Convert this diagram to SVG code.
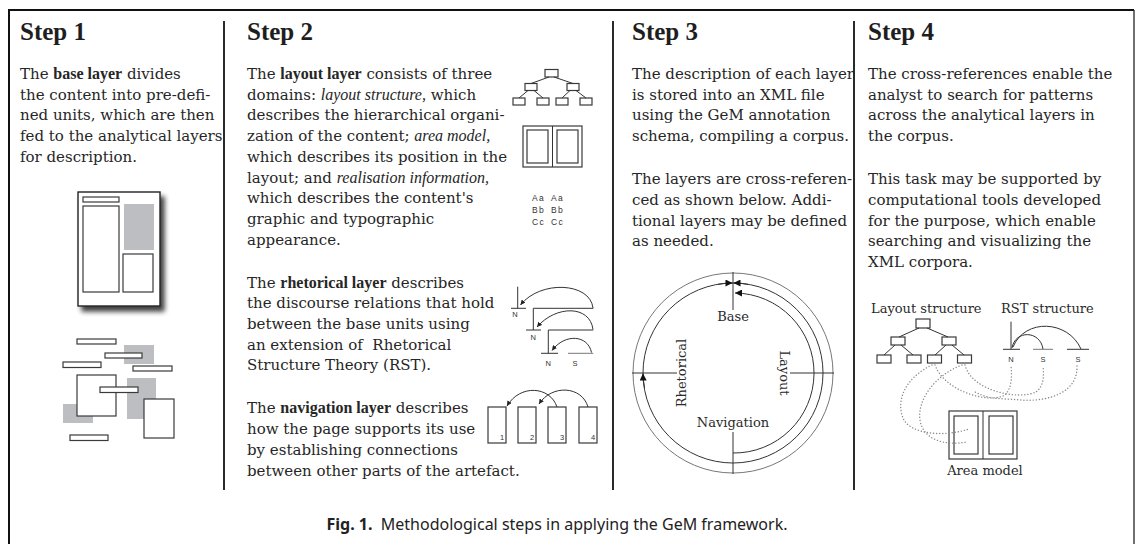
<svg xmlns="http://www.w3.org/2000/svg" width="1142" height="544" viewBox="0 0 1142 544">
<defs>
<style>
.t{font-family:"DejaVu Serif",serif;font-size:15px;fill:#262626}
.b{font-family:"Liberation Serif",serif;font-weight:bold;font-size:16px}
.i{font-family:"Liberation Serif",serif;font-style:italic;font-size:16px}
.head{font-family:"Liberation Serif",serif;font-weight:bold;font-size:25px;fill:#1e1e1e}
.frame{fill:none;stroke:#111;stroke-width:2}
.sep{stroke:#2a2a2a;stroke-width:2}
.box{fill:#fff;stroke:#3a3a3a;stroke-width:1.2}
.gray{fill:#bdbec1}
.ln{fill:none;stroke:#333;stroke-width:1}
.lg{fill:none;stroke:#777;stroke-width:1}
.lbl{font-family:"DejaVu Serif",serif;font-size:13px;fill:#2a2a2a}
.tiny{font-family:"Liberation Sans",sans-serif;font-size:7.5px;fill:#333}
.aa{font-family:"Liberation Sans",sans-serif;font-size:8.5px;fill:#333;letter-spacing:1.3px}
.dot{fill:none;stroke:#8a8a8a;stroke-width:1.4;stroke-dasharray:0.1 3;stroke-linecap:round}
.cap{font-family:"Noto Sans",sans-serif;font-size:16px;fill:#222}
</style>
<marker id="ah" viewBox="0 0 10 10" refX="10" refY="5" markerWidth="5" markerHeight="5" orient="auto" markerUnits="userSpaceOnUse">
<path d="M0,0 L10,5 L0,10 z" fill="#222"/>
</marker>
<marker id="ahc" viewBox="0 0 10 10" refX="10" refY="5" markerWidth="8" markerHeight="7" orient="auto" markerUnits="userSpaceOnUse">
<path d="M0,0 L10,5 L0,10 z" fill="#111"/>
</marker>
<filter id="shadow" x="-20%" y="-20%" width="150%" height="150%">
<feGaussianBlur in="SourceAlpha" stdDeviation="2.5"/>
<feOffset dx="4" dy="5"/>
<feComponentTransfer><feFuncA type="linear" slope="0.75"/></feComponentTransfer>
<feMerge><feMergeNode/><feMergeNode in="SourceGraphic"/></feMerge>
</filter>
</defs>

<!-- frame and column separators -->
<g id="frame">
<path class="frame" d="M9,546 V10 H1134"/>
<line x1="1134" y1="10" x2="1134" y2="546" stroke="#222" stroke-width="1.3"/>
<line class="sep" x1="224" y1="21" x2="224" y2="490"/>
<line class="sep" x1="613" y1="21" x2="613" y2="490"/>
<line class="sep" x1="854" y1="21" x2="854" y2="490"/>
</g>

<!-- Step 1 -->
<g id="step1">
<text class="head" x="20" y="40">Step 1</text>
<text class="t" x="20" y="79">The <tspan class="b">base layer</tspan> divides</text>
<text class="t" x="20" y="99.7">the content into pre-defi-</text>
<text class="t" x="20" y="120.4">ned units, which are then</text>
<text class="t" x="20" y="141.1">fed to the analytical layers</text>
<text class="t" x="20" y="161.8">for description.</text>
<g id="page-icon">
<rect x="78" y="192" width="82" height="114" fill="#fff" stroke="#222" stroke-width="1.4" filter="url(#shadow)"/>
<rect class="box" x="83" y="197" width="36" height="5"/>
<rect class="box" x="83" y="206" width="36" height="86"/>
<rect class="gray" x="124" y="204" width="30" height="46"/>
<rect class="box" x="123" y="254" width="30" height="38"/>
</g>
<g id="units">
<rect class="gray" x="124" y="345" width="30" height="19"/>
<rect class="gray" x="127" y="378" width="29" height="41"/>
<rect class="gray" x="63" y="404" width="30" height="19"/>
<rect class="box" x="77" y="339" width="39" height="5"/>
<rect class="box" x="105" y="353" width="37" height="5"/>
<rect class="box" x="63" y="362" width="38" height="5.5"/>
<rect class="box" x="133" y="366" width="39" height="5"/>
<rect class="box" x="77" y="375" width="39" height="41"/>
<rect class="box" x="100" y="387" width="38" height="5.5"/>
<rect class="box" x="144" y="399" width="30" height="39"/>
<rect class="box" x="70" y="435" width="38" height="5.5"/>
</g>
</g>

<!-- Step 2 -->
<g id="step2">
<text class="head" x="247" y="40">Step 2</text>
<text class="t" x="247" y="79">The <tspan class="b">layout layer</tspan> consists of three</text>
<text class="t" x="247" y="99.7">domains: <tspan class="i">layout structure,</tspan> which</text>
<text class="t" x="247" y="120.4">describes the hierarchical organi-</text>
<text class="t" x="247" y="141.1">zation of the content; <tspan class="i">area model,</tspan></text>
<text class="t" x="247" y="161.8">which describes its position in the</text>
<text class="t" x="247" y="182.5">layout; and <tspan class="i">realisation information,</tspan></text>
<text class="t" x="247" y="203.2">which describes the content's</text>
<text class="t" x="247" y="223.9">graphic and typographic</text>
<text class="t" x="247" y="244.6">appearance.</text>

<text class="t" x="247" y="287.6">The <tspan class="b">rhetorical layer</tspan> describes</text>
<text class="t" x="247" y="308.3">the discourse relations that hold</text>
<text class="t" x="247" y="329">between the base units using</text>
<text class="t" x="247" y="349.7" xml:space="preserve">an extension of  Rhetorical</text>
<text class="t" x="247" y="370.4">Structure Theory (RST).</text>

<text class="t" x="247" y="413.4">The <tspan class="b">navigation layer</tspan> describes</text>
<text class="t" x="247" y="434.1">how the page supports its use</text>
<text class="t" x="247" y="454.8">by establishing connections</text>
<text class="t" x="247" y="475.5">between other parts of the artefact.</text>

<g id="icon-tree">
<rect class="box" x="545" y="69.5" width="13" height="7.5"/>
<rect class="box" x="525" y="83.5" width="12" height="7"/>
<rect class="box" x="567" y="83.5" width="12" height="7"/>
<rect class="box" x="513" y="98" width="12" height="7"/>
<rect class="box" x="537" y="98" width="12" height="7"/>
<rect class="box" x="556" y="98" width="12" height="7"/>
<rect class="box" x="580" y="98" width="12" height="7"/>
<path class="ln" d="M549,77 L531,83.5 M554,77 L573,83.5 M528,90.5 L519,98 M534,90.5 L543,98 M570,90.5 L562,98 M576,90.5 L586,98"/>
</g>
<g id="icon-area">
<rect class="box" x="523" y="126" width="59" height="41"/>
<line class="ln" x1="552.5" y1="126" x2="552.5" y2="167"/>
<rect class="box" x="527" y="130" width="21" height="33"/>
<rect class="box" x="557" y="130" width="21" height="33"/>
</g>
<g id="icon-type">
<text class="aa" x="532" y="200.5">Aa</text><text class="aa" x="551" y="200.5">Aa</text>
<text class="aa" x="532" y="212.5">Bb</text><text class="aa" x="551" y="212.5">Bb</text>
<text class="aa" x="532" y="224.5">Cc</text><text class="aa" x="551" y="224.5">Cc</text>
</g>
<g id="icon-rst">
<path class="ln" d="M517.7,286.7 V308.3 M511,308.3 H526 M533.3,308.3 H593.3"/>
<path class="ln" d="M533.3,308.3 V330 M526,330 H541 M548.3,330 H593.3"/>
<path class="ln" d="M548.3,330 V353.3 M541,353.3 H558"/>
<path class="lg" d="M568,353.3 H593.3"/>
<path class="ln" marker-end="url(#ah)" d="M593,308 C590,282 540,280 520.5,305"/>
<path class="ln" marker-end="url(#ah)" d="M593,329.5 C590,305 556,305 537,327"/>
<path class="ln" marker-end="url(#ah)" d="M591.5,352.5 C588,335 565,333 552,350.5"/>
<text class="tiny" x="515" y="317" text-anchor="middle">N</text>
<text class="tiny" x="533.3" y="340" text-anchor="middle">N</text>
<text class="tiny" x="548.3" y="366" text-anchor="middle">N</text>
<text class="tiny" x="575" y="366" text-anchor="middle">S</text>
</g>
<g id="icon-nav">
<rect class="box" x="488" y="407" width="18" height="36"/>
<rect class="box" x="518" y="407" width="18" height="36"/>
<rect class="box" x="548" y="407" width="18" height="36"/>
<rect class="box" x="579" y="407" width="18" height="36"/>
<text class="tiny" x="502" y="440" text-anchor="middle">1</text>
<text class="tiny" x="532" y="440" text-anchor="middle">2</text>
<text class="tiny" x="562" y="440" text-anchor="middle">3</text>
<text class="tiny" x="593" y="440" text-anchor="middle">4</text>
<path class="ln" marker-end="url(#ah)" d="M557,407 C550,386 520,384 507,406"/>
<path class="ln" marker-end="url(#ah)" d="M588,407 C582,386 552,384 539,404"/>
</g>
</g>

<!-- Step 3 -->
<g id="step3">
<text class="head" x="632" y="40">Step 3</text>
<text class="t" x="632" y="79">The description of each layer</text>
<text class="t" x="632" y="99.7">is stored into an XML file</text>
<text class="t" x="632" y="120.4">using the GeM annotation</text>
<text class="t" x="632" y="141.1">schema, compiling a corpus.</text>
<text class="t" x="632" y="184.1">The layers are cross-referen-</text>
<text class="t" x="632" y="204.8">ced as shown below. Addi-</text>
<text class="t" x="632" y="225.5">tional layers may be defined</text>
<text class="t" x="632" y="246.2">as needed.</text>
<g id="layer-ring">
<circle class="lg" cx="733" cy="373" r="100"/>
<circle class="ln" cx="733" cy="373" r="90"/>
<path class="ln" d="M733,272 V310 M632,373 H677 M790,373 H834 M733,432 V474"/>
<path class="ln" marker-end="url(#ahc)" d="M733,453 A80,80 0 0 0 735,293"/>
<path class="ln" marker-end="url(#ahc)" d="M718,284.3 A90,90 0 0 1 732.5,283"/>
<path class="ln" marker-end="url(#ahc)" d="M748,284.3 A90,90 0 0 0 733.5,283"/>
<path class="ln" marker-end="url(#ahc)" d="M644.5,388 A90,90 0 0 1 643,373.5"/>
<text class="lbl" x="733" y="321" text-anchor="middle">Base</text>
<text class="lbl" x="733" y="427" text-anchor="middle">Navigation</text>
<text class="lbl" transform="translate(685.5,373) rotate(-90)" text-anchor="middle">Rhetorical</text>
<text class="lbl" transform="translate(779.5,373) rotate(90)" text-anchor="middle">Layout</text>
</g>
</g>

<!-- Step 4 -->
<g id="step4">
<text class="head" x="868" y="40">Step 4</text>
<text class="t" x="868" y="79">The cross-references enable the</text>
<text class="t" x="868" y="99.7">analyst to search for patterns</text>
<text class="t" x="868" y="120.4">across the analytical layers in</text>
<text class="t" x="868" y="141.1">the corpus.</text>
<text class="t" x="868" y="184.1">This task may be supported by</text>
<text class="t" x="868" y="204.8">computational tools developed</text>
<text class="t" x="868" y="225.5">for the purpose, which enable</text>
<text class="t" x="868" y="246.2">searching and visualizing the</text>
<text class="t" x="868" y="266.9">XML corpora.</text>

<text class="lbl" x="871" y="313">Layout structure</text>
<text class="lbl" x="1001" y="313">RST structure</text>
<text class="lbl" x="985" y="475" text-anchor="middle">Area model</text>

<g id="tree4">
<rect class="box" x="916" y="319" width="14" height="9"/>
<rect class="box" x="891" y="337" width="14" height="8"/>
<rect class="box" x="942" y="337" width="14" height="8"/>
<rect class="box" x="877" y="355" width="14" height="8"/>
<rect class="box" x="907" y="355" width="14" height="8"/>
<rect class="box" x="927.5" y="355" width="14" height="8"/>
<rect class="box" x="957.5" y="355" width="14" height="8"/>
<path class="ln" d="M919,328 L899,337 M927,328 L948,337 M895,345 L884,355 M901,345 L913,355 M946,345 L935,355 M952,345 L964,355"/>
</g>
<g id="rst4">
<path class="ln" d="M1011,321.7 V349.3 M1003,349.3 H1020 M1067,349.3 H1089"/>
<path class="lg" d="M1033,349.3 H1053"/>
<path class="ln" d="M1012,348 C1015,330 1040,330 1043,349"/>
<path class="ln" d="M1013,347 C1025,318 1068,320 1081,349"/>
<text class="tiny" x="1011" y="362" text-anchor="middle">N</text>
<text class="tiny" x="1043" y="362" text-anchor="middle">S</text>
<text class="tiny" x="1078" y="362" text-anchor="middle">S</text>
</g>
<g id="area4">
<rect class="box" x="949" y="411" width="68" height="48"/>
<line class="ln" x1="983" y1="411" x2="983" y2="459"/>
<rect class="box" x="954" y="416" width="24" height="38"/>
<rect class="box" x="989" y="416" width="24" height="38"/>
</g>
</g>

<!-- cross-reference links -->
<g id="links">
<path class="dot" d="M932,365 C905,378 896,400 903,418 C910,435 945,437 969,429"/>
<path class="dot" d="M962,365 C935,375 917,400 920,420 C923,440 945,446 967,442"/>
<path class="dot" d="M935,365 C945,392 990,404 1005,395 C1012,388 1012,376 1011,366"/>
<path class="dot" d="M965,365 C972,392 1020,400 1036,392 C1044,386 1044,376 1043,366"/>
<path class="dot" d="M1077,366 C1078,392 1050,402 1020,400 C1000,398 990,400 975,392"/>
</g>

<text class="cap" x="557" y="530" text-anchor="middle" xml:space="preserve"><tspan font-weight="bold">Fig. 1.</tspan>  Methodological steps in applying the GeM framework.</text>
</svg>
